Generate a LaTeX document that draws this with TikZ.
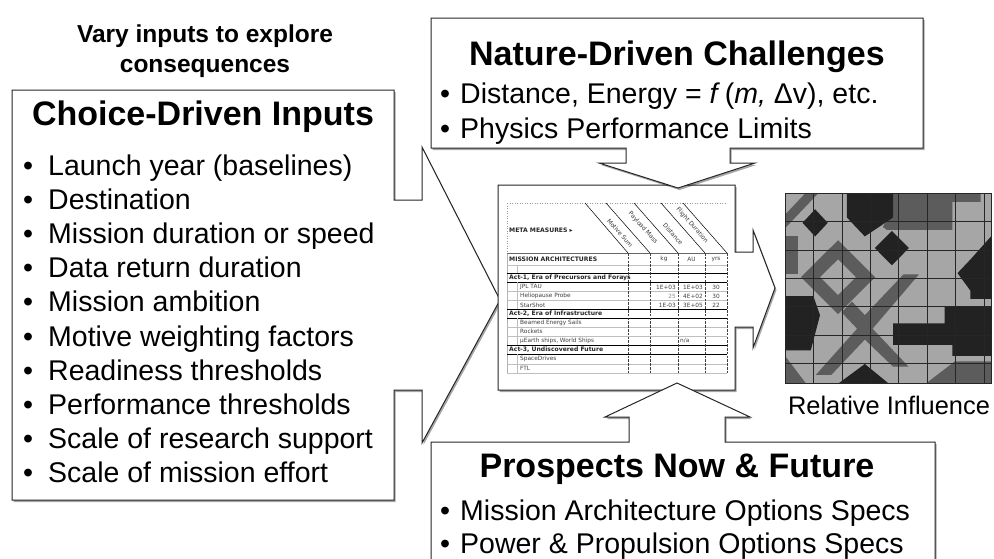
\documentclass[tikz,border=0pt]{standalone}
\usepackage{fontspec}
\setmainfont{Liberation Sans}
\newfontfamily\tabfont{DejaVu Sans}
\usetikzlibrary{shadows}
\definecolor{gl}{HTML}{A6A6A6}
\definecolor{gm}{HTML}{5C5C5C}
\definecolor{gd}{HTML}{222222}
\tikzset{
  callout/.style={draw=black!85, line width=1pt, fill=white, line join=miter,
    drop shadow={shadow xshift=1.5pt, shadow yshift=-2pt, opacity=0.35, fill=black}},
  txt/.style={font=\fontsize{28.5}{34}\selectfont, anchor=base west, inner sep=0pt},
  bul/.style={font=\fontsize{28.5}{34}\selectfont, anchor=base, inner sep=0pt},
  ttl/.style={font=\bfseries\fontsize{34}{40}\selectfont, anchor=base, inner sep=0pt},
  vary/.style={font=\bfseries\fontsize{24.5}{30}\selectfont, anchor=base, inner sep=0pt},
  tb/.style={font=\tabfont\bfseries\fontsize{6.1}{6.5}\selectfont, text=black!85, inner sep=0pt, anchor=west},
  tr/.style={font=\tabfont\fontsize{5.8}{6.2}\selectfont, text=black!75, inner sep=0pt, anchor=west},
  tv/.style={font=\tabfont\fontsize{5.8}{6.2}\selectfont, text=black!75, inner sep=0pt, anchor=east},
  th/.style={font=\tabfont\fontsize{6}{6.5}\selectfont, text=black!80, inner sep=0pt, rotate=-48.7},
  rowline/.style={black!25, line width=0.5pt},
  actline/.style={black, line width=1pt},
  colline/.style={black!75, line width=0.55pt, dash pattern=on 2.5pt off 1.3pt},
  gridline/.style={black!85, line width=0.7pt},
}
\begin{document}
\begin{tikzpicture}[x=1pt, y=-1pt]
\useasboundingbox (0,0) rectangle (994,558);
\clip (0,0) rectangle (994,558);

% ---------- left callout: Choice-Driven Inputs
\path[callout] (12,90) -- (394,90) -- (394,200) -- (422,200) -- (422,147) -- (500,300)
  -- (422,443) -- (422,390) -- (394,390) -- (394,500) -- (12,500) -- cycle;

% ---------- table frame callout
\path[callout] (498,185) -- (735,185) -- (735,252) -- (753,252) -- (753,230) -- (775,288)
  -- (753,348) -- (753,327) -- (735,327) -- (735,390) -- (498,390) -- cycle;

% ---------- table
\draw[black!40, line width=0.5pt, dotted] (507,203) -- (727,203);
\draw[black!40, line width=0.5pt, dotted] (507,203) -- (507,253);
\draw[black!30, line width=0.5pt] (507,253) -- (507,373);
\foreach \a/\b in {585/628, 606/650, 634/678, 661/705, 683/727}
  \draw[black, line width=0.5pt] (\a,203) -- (\b,253);
\draw[black!60, line width=0.6pt] (507,253) -- (727,253);
\foreach \y in {265,291,300,327,336,364,373}
  \draw[rowline] (507,\y) -- (727,\y);
\foreach \y in {273,282,309,318,345,354}
  \draw[actline] (507,\y) -- (727,\y);
\foreach \ya/\yb in {265/273, 282/309, 318/345, 354/373}
  \draw[rowline] (517,\ya) -- (517,\yb);
\foreach \x in {628,650,678,705,727}
  \draw[colline] (\x,253) -- (\x,373);

\node[tb] (meta) at (509,230) {META MEASURES \char"25B8};
\node[th] (hmot) at (620,233) {Motive Sum};
\node[th] (hpay) at (643,228) {Payload Mass};
\node[th] (hdis) at (673,234) {Distance};
\node[th] (hfli) at (692,225) {Flight Duration};

\node[tb] (ma) at (509,259) {MISSION ARCHITECTURES};
\node[tr, anchor=center] (ukg) at (664,259) {kg};
\node[tr, anchor=center] (uau) at (691.5,259) {AU};
\node[tr, anchor=center] (uyr) at (716,259) {yrs};

\node[tb] (act1) at (509,278) {Act-1, Era of Precursors and Forays};
\node[tr] (r1) at (520,287) {JPL TAU};
\node[tr] (r2) at (520,296) {Heliopause Probe};
\node[tr] (r3) at (520,305) {StarShot};
\node[tb] (act2) at (509,313.5) {Act-2, Era of Infrastructure};
\node[tr] (r4) at (520,322.5) {Beamed Energy Sails};
\node[tr] (r5) at (520,331.5) {Rockets};
\node[tr] (r6) at (520,340.5) {µEarth ships, World Ships};
\node[tb] (act3) at (509,349.5) {Act-3, Undiscovered Future};
\node[tr] (r7) at (520,359) {SpaceDrives};
\node[tr] (r8) at (520,368.5) {FTL};

\node[tv] (v11) at (676,287) {1E+03};
\node[tv] (v12) at (703,287) {1E+03};
\node[tr, anchor=center] (v13) at (716,287) {30};
\node[tv, text=black!45] (v21) at (676,296) {25};
\node[tv] (v22) at (703,296) {4E+02};
\node[tr, anchor=center] (v23) at (716,296) {30};
\node[tv] (v31) at (676,305) {1E-03};
\node[tv] (v32) at (703,305) {3E+05};
\node[tr, anchor=center] (v33) at (716,305) {22};
\node[tr] (v62) at (680,340.5) {n/a};

% ---------- top callout: Nature-Driven Challenges
\path[callout] (431,18) -- (923,18) -- (923,148) -- (730,148) -- (730,163) -- (755,163)
  -- (678,188) -- (599,163) -- (626,163) -- (626,148) -- (431,148) -- cycle;

% ---------- bottom callout: Prospects Now & Future
\path[callout] (431,442) -- (629,442) -- (629,417) -- (605,417) -- (677,383) -- (750,417)
  -- (725,417) -- (725,442) -- (935,442) -- (935,575) -- (431,575) -- cycle;

% ---------- influence grid
\begin{scope}[shift={(785,193)}, x=25.75pt, y=-27.14pt]
  \fill[gl] (0,0) rectangle (8,7);
  % mid-gray bands
  \fill[gm] (0,0.8) -- (0.8,0) -- (1.3,0) -- (0,1.3) -- cycle;
  \fill[gm] (4.07,0.8) -- (4.2,0) -- (7.6,0) -- (7.6,0.33) -- (6.5,0.33) -- (6.5,1.36) -- (3.96,1.36) -- (3.8,1.25) -- cycle;
  \fill[gm, even odd rule] (2.06,1.74) -- (3.5,3.1) -- (2.06,4.46) -- (0.62,3.1) -- cycle
     (2.06,2.44) -- (2.76,3.1) -- (2.06,3.76) -- (1.36,3.1) -- cycle;
  \fill[gm] (2.6,4.0) -- (3.1,4.5) -- (4.6,3.0) -- (5.2,3.0) -- (3.4,5.0) -- (4.8,6.4) -- (4.2,6.4)
     -- (3.1,5.4) -- (1.8,6.7) -- (1.2,6.7) -- (2.8,5.0) -- (2.2,4.4) -- cycle;
  \fill[gm] (0,1.6) -- (0.5,1.6) -- (0.5,3.0) -- (0,3.0) -- cycle;
  \fill[gm] (0,6.0) -- (0.8,7) -- (0,7) -- cycle;
  \fill[gm] (5.5,7) -- (6.6,6.2) -- (8,6.2) -- (8,7) -- cycle;
  % dark regions
  \fill[gd] (1.17,0.6) -- (1.66,1.1) -- (1.17,1.6) -- (0.68,1.1) -- cycle;
  \fill[gd] (2.4,0) -- (4.2,0) -- (4.2,0.9) -- (3.1,1.6) -- (2.4,0.9) -- cycle;
  \fill[gd] (4.15,1.4) -- (4.81,2.03) -- (4.15,2.66) -- (3.49,2.03) -- cycle;
  \fill[gd] (8,1.6) -- (7.2,2.45) -- (6.7,2.95) -- (7.2,3.6) -- (7.2,3.9) -- (8,3.9) -- cycle;
  \fill[gd] (0,3.8) -- (1.1,3.8) -- (1.36,4.5) -- (1.0,5.8) -- (0,5.8) -- cycle;
  \fill[gd] (4.2,4.8) -- (6.2,4.8) -- (6.2,4.2) -- (8,4.2) -- (8,6.0) -- (6.5,6.0) -- (6.5,5.6) -- (4.2,5.6) -- cycle;
  \fill[gd] (2.1,7) -- (3.1,6.3) -- (4.0,7) -- cycle;
  \draw[gridline] (0,0) grid (8,7);
  \draw[black!85, line width=0.8pt] (0,0) rectangle (8,7);
\end{scope}

% ---------- texts
\node[vary] (vary1) at (205,42) {Vary inputs to explore};
\node[vary] (vary2) at (205,72) {consequences};

\node[ttl] (choice) at (203,125) {Choice-Driven Inputs};
\foreach \t [count=\i from 0] in {Launch year (baselines), Destination, Mission duration or speed,
    Data return duration, Mission ambition, Motive weighting factors, Readiness thresholds,
    Performance thresholds, Scale of research support, Scale of mission effort} {
  \node[bul] (cb\i) at (28,175+34.2*\i) {•};
  \node[txt] (ct\i) at (48,175+34.2*\i) {\t};
}

\node[ttl] (nature) at (677,65) {Nature-Driven Challenges};
\node[bul] (nb1) at (445,103) {•};
\node[txt] (nt1) at (460,103) {Distance, Energy = \textit{f}\,(\textit{m,} Δv), etc.};
\node[bul] (nb2) at (445,138) {•};
\node[txt] (nt2) at (460,138) {Physics Performance Limits};

\node[ttl] (prosp) at (677,477) {Prospects Now \& Future};
\node[bul] (pb1) at (445,520) {•};
\node[txt] (pt1) at (460,520) {Mission Architecture Options Specs};
\node[bul] (pb2) at (445,553) {•};
\node[txt] (pt2) at (460,553) {Power \& Propulsion Options Specs};

\node[font=\fontsize{25.4}{30}\selectfont, anchor=base, inner sep=0pt] (rel) at (889,414) {Relative Influence};
\end{tikzpicture}
\end{document}
